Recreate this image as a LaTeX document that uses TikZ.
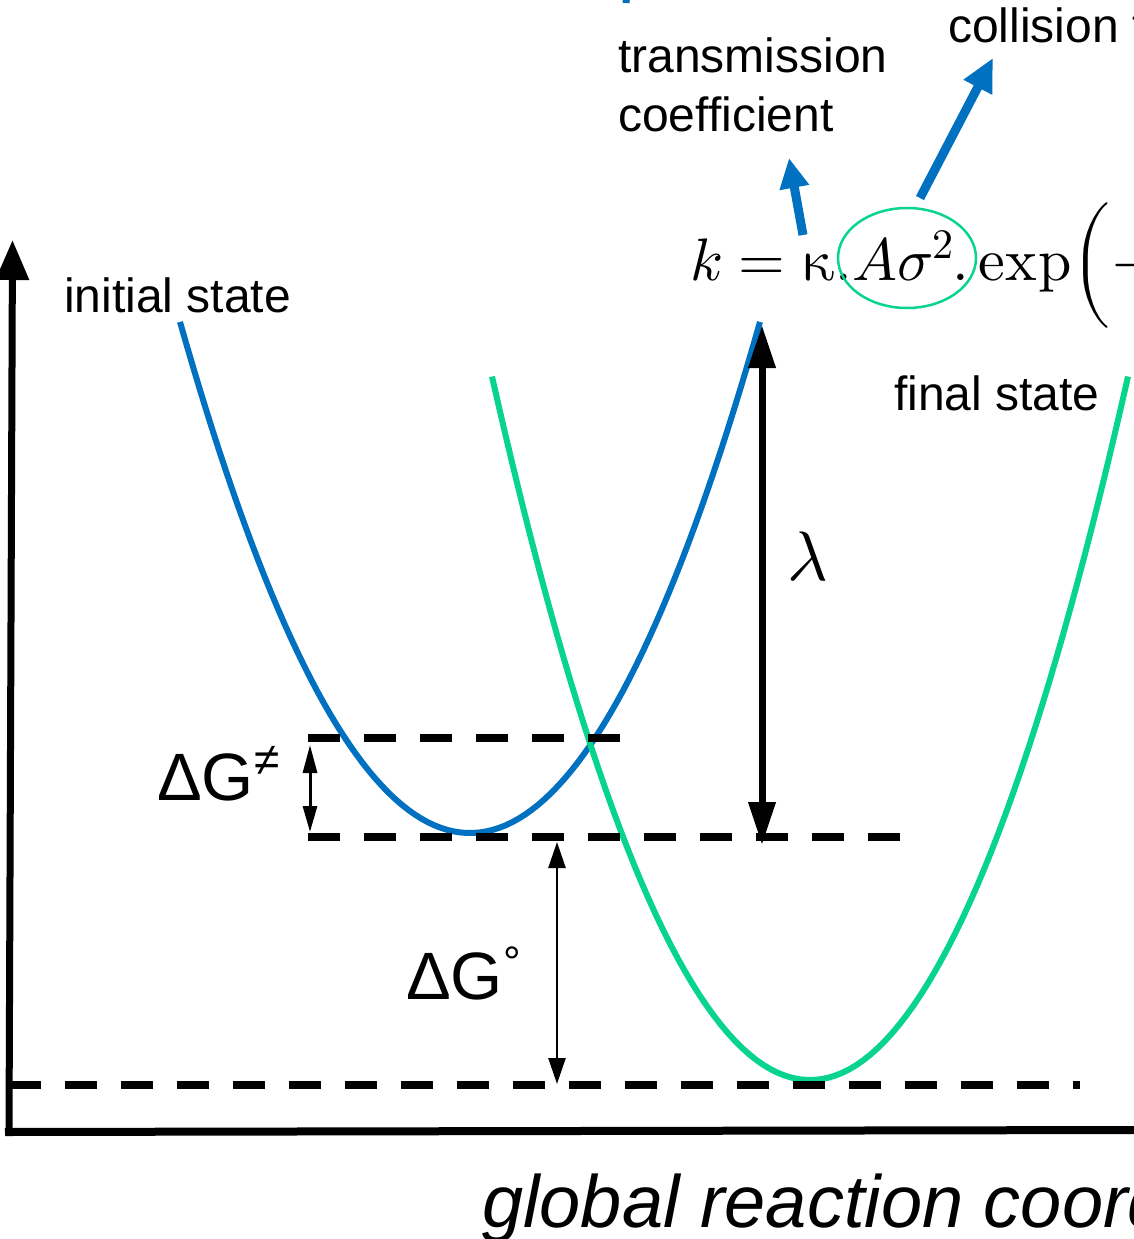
\documentclass[tikz,border=0pt]{standalone}
\usepackage{fontspec}
\usepackage{unicode-math}
\setmainfont{Liberation Sans}
\setmathfont{Latin Modern Math}
\usetikzlibrary{arrows.meta,positioning,shapes.geometric}
\definecolor{ini}{RGB}{0,112,192}
\definecolor{fin}{RGB}{8,212,142}

\begin{document}
\begin{tikzpicture}[
    x=1pt,y=-1pt,
    curve/.style={line width=6pt},
    lbl/.style={inner sep=0pt,anchor=base west,font=\fontsize{48}{57}\selectfont},
    big/.style={inner sep=0pt,anchor=base west,font=\fontsize{67}{67}\selectfont},
    eq/.style={inner sep=0pt,anchor=base west,font=\fontsize{60}{60}\selectfont},
    level/.style={line width=8pt,dash pattern=on 32pt off 24pt},
    call/.style={ini,line width=9pt,-{Triangle[length=30pt,width=28pt]}},
    gap/.style={line width=#1},
  ]
  \useasboundingbox (0,0) rectangle (1134,1239);
  \clip (0,0) rectangle (1134,1239);

  % axes
  \coordinate (O) at (9,1132);
  \coordinate (Ytop) at (12.5,240);
  \coordinate (Xend) at (1140,1130);
  \draw[line width=7pt,-{Triangle[length=40pt,width=32pt]}] (O) -- (Ytop);
  \draw[line width=8pt] ([xshift=-4pt]O) -- (Xend);

  % free energy curves
  \draw[curve,ini] plot[domain=180:760,samples=90] (\x,{833-(0.07795*(\x-470))^2});
  \draw[curve,fin] plot[domain=492:1128,samples=90] (\x,{1080-(0.0834*(\x-810))^2});

  % energy levels
  \coordinate (TSl) at (308,738);
  \coordinate (TSr) at (620,738);
  \coordinate (ISl) at (308,837);
  \coordinate (ISr) at (900,837);
  \coordinate (FSl) at (9,1085);
  \coordinate (FSr) at (1080,1085);
  \draw[level] (TSl) -- (TSr);
  \draw[level] (ISl) -- (ISr);
  \draw[level] (FSl) -- (FSr);

  % gaps
  \coordinate (a1) at (310,745);
  \coordinate (a2) at (310,832);
  \draw[gap=3pt,{Triangle[length=28pt,width=14pt]}-{Triangle[length=26pt,width=14pt]}] (a1) -- (a2);
  \coordinate (b1) at (557,842);
  \coordinate (b2) at (557,1084);
  \draw[gap=2.5pt,{Triangle[length=26pt,width=17pt]}-{Triangle[length=26pt,width=17pt]}] (b1) -- (b2);
  \coordinate (c1) at (762,325);
  \coordinate (c2) at (762,845);
  \draw[gap=7pt,{Triangle[length=43pt,width=26pt]}-{Triangle[length=43pt,width=26pt]}] (c1) -- (c2);

  % labels
  \node[lbl] (init) at (64,312) {initial state};
  \node[lbl] (final) at (894,410) {final state};
  \node[lbl] (trans) at (618,73) {transmission};
  \node[lbl] (coef) at (618,131) {coefficient};
  \node[lbl] (coll) at (948,43) {collision frequency};
  \node[big] (dGts) at (157,800) {ΔG\raisebox{25pt}{\fontsize{46}{46}\selectfont ≠}};
  \node[big] (dG0) at (406,999) {ΔG\raisebox{22pt}{\fontsize{44}{44}\selectfont °}};
  \node[font=\fontsize{70}{70}\selectfont] (lam) at (808,557) {$\lambda$};
  \node[inner sep=0pt,anchor=base west,font=\fontsize{74}{74}\selectfont\itshape] (xlab) at (482,1227) {global reaction coordinate};

  % rate expression
  \node[eq] (eqk) at (690,280) {$k=\upkappa.$};
  \node[eq] (eqA) at (852,280) {$A\sigma^2$};
  \node[eq] (eqexp) at (952,280) {$.\mathop{\symup{exp}}\nolimits\!\left(\rule[-47pt]{0pt}{118pt}\right.\!-$};
  \node[ellipse,draw=fin,line width=2.5pt,minimum width=138pt,minimum height=100pt,inner sep=0pt] (ring) at (907,258) {};

  % callouts
  \coordinate (kap) at (803,235);
  \coordinate (kapTip) at (789,158);
  \coordinate (ringTop) at (920,198);
  \coordinate (collTip) at (993,58);
  \draw[call] (kap) -- (kapTip);
  \draw[call,-{Triangle[length=33pt,width=30pt]}] (ringTop) -- (collTip);
  \draw[ini,line width=7pt] (628,-20) -- (626,3);
\end{tikzpicture}
\end{document}
